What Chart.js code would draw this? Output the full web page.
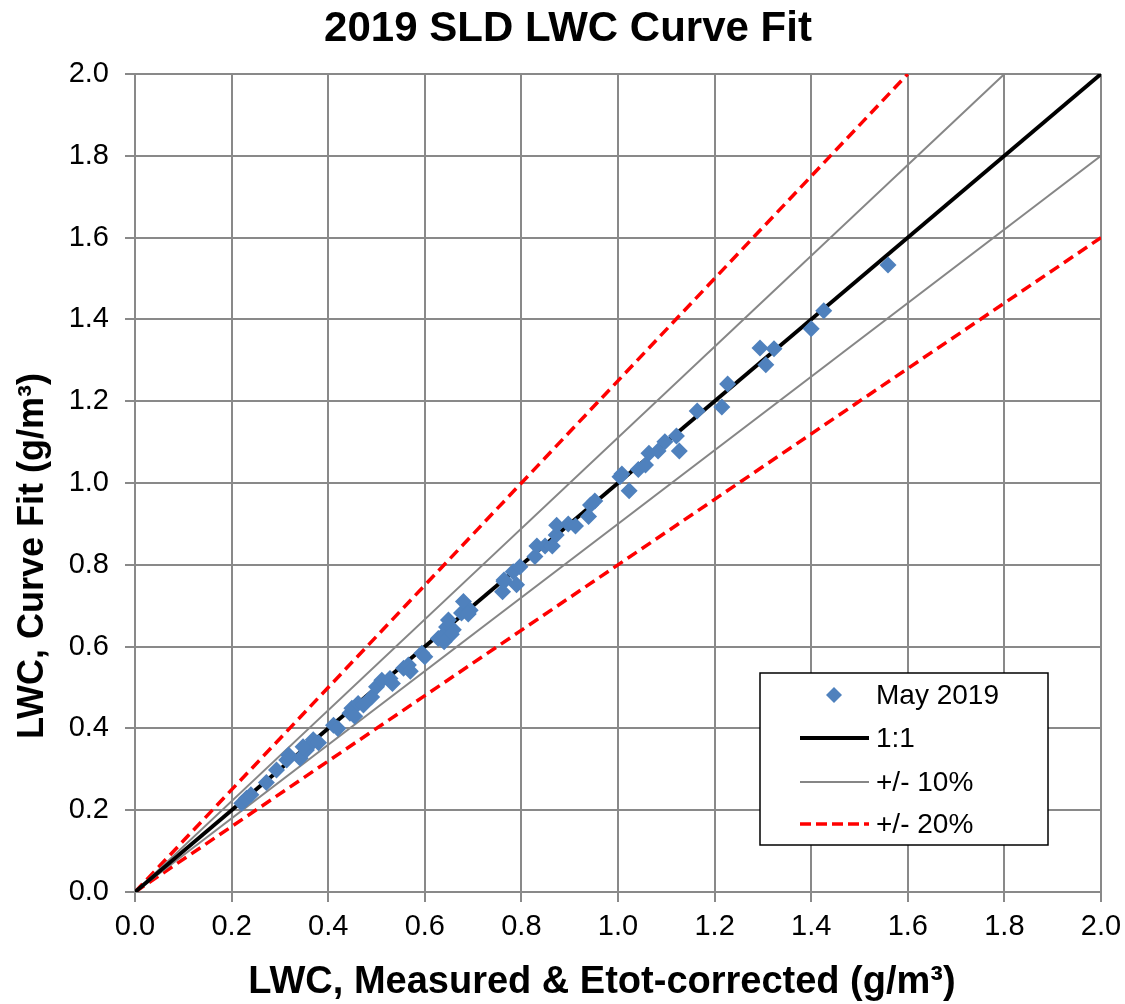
<!DOCTYPE html>
<html>
<head>
<meta charset="utf-8">
<title>2019 SLD LWC Curve Fit</title>
<script src="https://cdn.jsdelivr.net/npm/chart.js@4.4.1/dist/chart.umd.min.js"></script>
<style>
  html, body { margin: 0; padding: 0; background: #fff; }
  #wrap { width: 1125px; height: 1004px; }
</style>
</head>
<body>
<div id="wrap"><canvas id="myChart"></canvas></div>
<script>
// May 2019 points: measured (Etot-corrected) LWC vs curve-fit LWC, g/m3
const measured = [
  0.221, 0.231, 0.240, 0.272, 0.293, 0.314, 0.318, 0.342, 0.355, 0.348,
  0.369, 0.369, 0.380, 0.411, 0.420, 0.445, 0.449, 0.455, 0.462, 0.473,
  0.490, 0.500, 0.511, 0.528, 0.533, 0.556, 0.566, 0.570, 0.594, 0.600,
  0.628, 0.638, 0.645, 0.649, 0.659, 0.655, 0.640, 0.676, 0.680, 0.694,
  0.690, 0.761, 0.764, 0.764, 0.783, 0.790, 0.797, 0.828, 0.832, 0.849,
  0.864, 0.872, 0.873, 0.897, 0.912, 0.939, 0.943, 0.952, 1.004, 1.008,
  1.023, 1.042, 1.057, 1.064, 1.083, 1.097, 1.121, 1.127, 1.164, 1.215,
  1.227, 1.294, 1.306, 1.323, 1.400, 1.426, 1.559
];
const curveFit = [
  0.217, 0.229, 0.238, 0.268, 0.298, 0.323, 0.335, 0.327, 0.347, 0.355,
  0.368, 0.372, 0.365, 0.408, 0.400, 0.437, 0.449, 0.430, 0.461, 0.457,
  0.477, 0.502, 0.518, 0.522, 0.510, 0.547, 0.555, 0.540, 0.584, 0.575,
  0.620, 0.628, 0.648, 0.665, 0.641, 0.630, 0.612, 0.682, 0.710, 0.689,
  0.680, 0.734, 0.759, 0.763, 0.783, 0.751, 0.795, 0.820, 0.846, 0.846,
  0.846, 0.873, 0.897, 0.900, 0.895, 0.918, 0.946, 0.956, 1.015, 1.022,
  0.981, 1.033, 1.044, 1.073, 1.078, 1.101, 1.115, 1.078, 1.176, 1.186,
  1.242, 1.330, 1.289, 1.328, 1.377, 1.421, 1.533
];

// reference lines, [x, y] end points
const oneToOne = [[0, 0], [2.0, 2.0]];
const plus10 = [[0, 0], [1.8, 2.0]];
const minus10 = [[0, 0], [2.0, 1.8]];
const plus20 = [[0, 0], [1.6, 2.0]];
const minus20 = [[0, 0], [2.0, 1.6]];

const xTicks = ['0.0', '0.2', '0.4', '0.6', '0.8', '1.0', '1.2', '1.4', '1.6', '1.8', '2.0'];
const yTicks = ['0.0', '0.2', '0.4', '0.6', '0.8', '1.0', '1.2', '1.4', '1.6', '1.8', '2.0'];

const legendItems = ['May 2019', '1:1', '+/- 10%', '+/- 20%'];

const FONT = "'Liberation Sans', Arial, sans-serif";
const BLUE = '#4F81BD';
const GRID = '#898989';
const RED = '#FF0000';

const toXY = pts => pts.map(p => ({ x: p[0], y: p[1] }));

function lineSet(label, pts, color, width, dash) {
  return {
    label: label,
    data: toXY(pts),
    showLine: true,
    borderColor: color,
    borderWidth: width,
    borderDash: dash || [],
    pointRadius: 0,
    pointHoverRadius: 0,
    fill: false
  };
}

// chart title and axis titles drawn at fixed spots, as in the original sheet
const titles = {
  id: 'titles',
  afterDraw(chart) {
    const ctx = chart.ctx;
    ctx.save();
    ctx.fillStyle = '#000';
    ctx.textAlign = 'center';
    ctx.textBaseline = 'middle';
    ctx.font = 'bold 42px ' + FONT;
    ctx.fillText('2019 SLD LWC Curve Fit', 568, 29);
    ctx.font = 'bold 38px ' + FONT;
    ctx.fillText('LWC, Measured & Etot-corrected (g/m³)', 602, 983);
    ctx.translate(33, 556);
    ctx.rotate(-Math.PI / 2);
    ctx.font = 'bold 36px ' + FONT;
    ctx.fillText('LWC, Curve Fit (g/m³)', 0, 0);
    ctx.restore();
  }
};

// boxed legend inside the plot, lower right
const boxLegend = {
  id: 'boxLegend',
  afterDraw(chart) {
    const ctx = chart.ctx;
    const box = { x: 760, y: 673, w: 288, h: 172 };
    const rows = [695, 738, 782, 824];
    ctx.save();
    ctx.fillStyle = '#fff';
    ctx.fillRect(box.x, box.y, box.w, box.h);
    ctx.strokeStyle = '#000';
    ctx.lineWidth = 1.5;
    ctx.strokeRect(box.x, box.y, box.w, box.h);

    // diamond marker
    ctx.fillStyle = BLUE;
    ctx.beginPath();
    ctx.moveTo(834 - 8, rows[0]);
    ctx.lineTo(834, rows[0] - 8);
    ctx.lineTo(834 + 8, rows[0]);
    ctx.lineTo(834, rows[0] + 8);
    ctx.closePath();
    ctx.fill();

    const strokes = [
      null,
      { color: '#000', width: 4, dash: [] },
      { color: '#868686', width: 2, dash: [] },
      { color: RED, width: 3.5, dash: [11, 5] }
    ];
    strokes.forEach((s, i) => {
      if (!s) return;
      ctx.strokeStyle = s.color;
      ctx.lineWidth = s.width;
      ctx.setLineDash(s.dash);
      ctx.beginPath();
      ctx.moveTo(800, rows[i]);
      ctx.lineTo(869, rows[i]);
      ctx.stroke();
    });
    ctx.setLineDash([]);

    ctx.fillStyle = '#000';
    ctx.font = '28px ' + FONT;
    ctx.textAlign = 'left';
    ctx.textBaseline = 'middle';
    legendItems.forEach((t, i) => ctx.fillText(t, 876, rows[i] + 1));
    ctx.restore();
  }
};

const points = measured.map((x, i) => ({ x: x, y: curveFit[i] }));

const ctx = document.getElementById('myChart').getContext('2d');
new Chart(ctx, {
  type: 'scatter',
  data: {
    datasets: [
      {
        label: legendItems[0],
        data: points,
        pointStyle: 'rectRot',
        pointRadius: 8.5,
        pointHoverRadius: 8.5,
        backgroundColor: BLUE,
        borderColor: BLUE,
        borderWidth: 0
      },
      lineSet(legendItems[1], oneToOne, '#000', 4),
      lineSet(legendItems[2], plus10, '#868686', 2),
      lineSet(legendItems[2], minus10, '#868686', 2),
      lineSet(legendItems[3], plus20, RED, 3.5, [11, 6]),
      lineSet(legendItems[3], minus20, RED, 3.5, [11, 6])
    ]
  },
  options: {
    responsive: true,
    maintainAspectRatio: false,
    animation: false,
    events: [],
    layout: { padding: { left: 0, right: 24, top: 74, bottom: 0 } },
    plugins: {
      legend: { display: false },
      tooltip: { enabled: false },
      title: { display: false }
    },
    scales: {
      x: {
        type: 'linear',
        min: 0,
        max: 2,
        afterFit: s => { s.height = 112; s.paddingLeft = 0; s.paddingRight = 0; },
        afterBuildTicks: s => { s.ticks = xTicks.map(v => ({ value: parseFloat(v) })); },
        ticks: {
          color: '#000',
          font: { family: FONT, size: 29 },
          padding: 8,
          maxRotation: 0,
          callback: (v, i) => xTicks[i]
        },
        grid: { color: GRID, lineWidth: 2, tickLength: 10, tickColor: GRID },
        border: { color: GRID, width: 2 }
      },
      y: {
        type: 'linear',
        min: 0,
        max: 2,
        afterFit: s => { s.width = 135; s.paddingTop = 0; s.paddingBottom = 0; },
        afterBuildTicks: s => { s.ticks = yTicks.map(v => ({ value: parseFloat(v) })); },
        ticks: {
          color: '#000',
          font: { family: FONT, size: 29 },
          padding: 16,
          callback: (v, i) => yTicks[i]
        },
        grid: { color: GRID, lineWidth: 2, tickLength: 10, tickColor: GRID },
        border: { color: GRID, width: 2 }
      }
    }
  },
  plugins: [titles, boxLegend]
});
</script>
</body>
</html>
